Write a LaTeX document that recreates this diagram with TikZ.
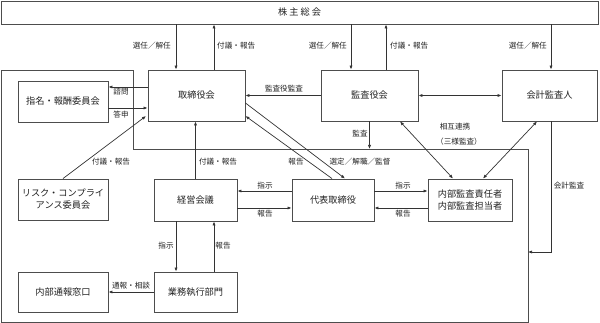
\documentclass[tikz,border=0pt]{standalone}
\usepackage{fontspec}
\setmainfont{Noto Sans CJK JP}
\usetikzlibrary{arrows.meta}
\definecolor{boxc}{HTML}{4D4D4D}
\definecolor{linec}{HTML}{333333}
\definecolor{txtc}{HTML}{222222}
\tikzset{
  box/.style={draw=boxc, line width=0.9pt, fill=white, text=txtc, align=center, inner sep=0pt,
    font=\fontsize{9.2}{12}\selectfont},
  arr/.style={draw=linec, line width=0.7pt, -{Latex[length=4pt,width=3.2pt]}},
  darr/.style={draw=linec, line width=0.7pt, {Latex[length=4pt,width=3.2pt]}-{Latex[length=4pt,width=3.2pt]}},
  lbl/.style={text=txtc, inner sep=0pt, font=\fontsize{7.6}{9}\selectfont},
  frame/.style={draw=boxc, line width=0.9pt}
}
\begin{document}
\begin{tikzpicture}[x=1pt,y=-1pt]
\useasboundingbox (0,0) rectangle (600,323);
% outer frame
\draw[frame] (1,70) -- (133,70) -- (133,149) -- (528,149) -- (528,322) -- (1,322) -- cycle;
\coordinate (fr) at (528,252);
% nodes
\node[box, minimum width=597pt, minimum height=23pt] (kabu) at (299.5,12.5) {株 主 総 会};
\node[box, minimum width=97pt, minimum height=51pt] (tori) at (196.5,95.5) {取締役会};
\node[box, minimum width=97pt, minimum height=51pt] (kan) at (369.5,95.5) {監査役会};
\node[box, minimum width=95pt, minimum height=51pt] (kai) at (549.5,95.5) {会計監査人};
\node[box, minimum width=90pt, minimum height=41pt] (shi) at (63,101.5) {指名・報酬委員会};
\node[box, minimum width=90pt, minimum height=41pt] (risk) at (63,199.5) {リスク・コンプライ\\アンス委員会};
\node[box, minimum width=83pt, minimum height=42pt] (kei) at (195.5,200) {経営会議};
\node[box, minimum width=82pt, minimum height=42pt] (dai) at (333,200) {代表取締役};
\node[box, minimum width=84pt, minimum height=42pt] (nai) at (470,200) {内部監査責任者\\内部監査担当者};
\node[box, minimum width=90pt, minimum height=40pt] (tsu) at (63,292) {内部通報窓口};
\node[box, minimum width=83pt, minimum height=40pt] (gyo) at (195.5,292) {業務執行部門};
% helper coordinates
\coordinate (t1) at ([xshift=-20.5pt]tori.north);
\coordinate (t2) at ([xshift=17.5pt]tori.north);
\coordinate (k1) at ([xshift=-18.5pt]kan.north);
\coordinate (k2) at ([xshift=16.5pt]kan.north);
\coordinate (a1) at ([xshift=1.5pt]kai.north);
\coordinate (a2) at ([xshift=1.5pt]kai.south);
\coordinate (ks) at (kan.south);
\coordinate (kf) at (369.5,149);
% top connectors
\draw[arr] (t1 |- kabu.south) -- (t1);
\draw[arr] (t2) -- (t2 |- kabu.south);
\draw[arr] (k1 |- kabu.south) -- (k1);
\draw[arr] (k2) -- (k2 |- kabu.south);
\draw[arr] (a1 |- kabu.south) -- (a1);
\node[lbl, anchor=east] at (171,46) {選任／解任};
\node[lbl, anchor=west] at (217,46) {付議・報告};
\node[lbl, anchor=east] at (347,46) {選任／解任};
\node[lbl, anchor=west] at (390,46) {付議・報告};
\node[lbl, anchor=east] at (547,46) {選任／解任};
% board-level
\draw[darr] (kan.east) -- (kai.west);
\draw[arr] (kan.west) -- (tori.east);
\node[lbl] at (284,89) {監査役監査};
\draw[arr] ([yshift=8.5pt]tori.west) -- ([yshift=8.5pt]tori.west -| shi.east);
\draw[arr] ([yshift=-6.5pt]shi.east) -- ([yshift=-6.5pt]shi.east -| tori.west);
\node[lbl] at (121,91.5) {諮問};
\node[lbl] at (121,114.5) {答申};
% risk
\draw[arr] (risk.north) -- ([xshift=-1.5pt,yshift=-20.5pt]tori.west);
\node[lbl] at (111,162) {付議・報告};
% keiei
\draw[arr] (kei.north) -- (kei.north |- tori.south);
\node[lbl] at (218,162) {付議・報告};
% diagonals
\draw[arr] ([xshift=-1pt]dai.north) -- ([yshift=-20.5pt]tori.east);
\draw[arr] ([yshift=-7.5pt]tori.east) -- ([xshift=12pt]dai.north);
\node[lbl] at (296,162) {報告};
\node[lbl] at (360,162) {選定／解職／監督};
% kansa down
\draw[arr] (ks) -- (kf);
\node[lbl] at (360,134) {監査};
% mutual
\draw[darr] ([xshift=30.5pt]kan.south) -- ([xshift=-17pt]nai.north);
\draw[darr] ([xshift=-12.5pt]kai.south) -- ([xshift=13pt]nai.north);
\node[lbl] at (455,127) {相互連携};
\node[lbl] at (459,142) {（三様監査）};
% kaikei kansa
\draw[arr] (a2) |- (fr);
\node[lbl] at (569,186) {会計監査};
% kei - dai - nai
\draw[arr] ([yshift=9pt]dai.west) -- ([yshift=9pt]dai.west -| kei.east);
\draw[arr] ([yshift=-8pt]kei.east) -- ([yshift=-8pt]kei.east -| dai.west);
\node[lbl] at (265,186) {指示};
\node[lbl] at (265,213.5) {報告};
\draw[arr] ([yshift=9pt]dai.east) -- ([yshift=9pt]dai.east -| nai.west);
\draw[arr] ([yshift=-8pt]nai.west) -- ([yshift=-8pt]nai.west -| dai.east);
\node[lbl] at (403,186) {指示};
\node[lbl] at (403,213.5) {報告};
% kei - gyo
\coordinate (g1) at ([xshift=-19.5pt]kei.south);
\coordinate (g2) at ([xshift=18.5pt]kei.south);
\draw[arr] (g1) -- (g1 |- gyo.north);
\draw[arr] (g2 |- gyo.north) -- (g2);
\node[lbl] at (166,246) {指示};
\node[lbl] at (223,246) {報告};
% gyo - tsu
\draw[arr] (gyo.west) -- (tsu.east);
\node[lbl] at (131,286) {通報・相談};
\end{tikzpicture}
\end{document}
